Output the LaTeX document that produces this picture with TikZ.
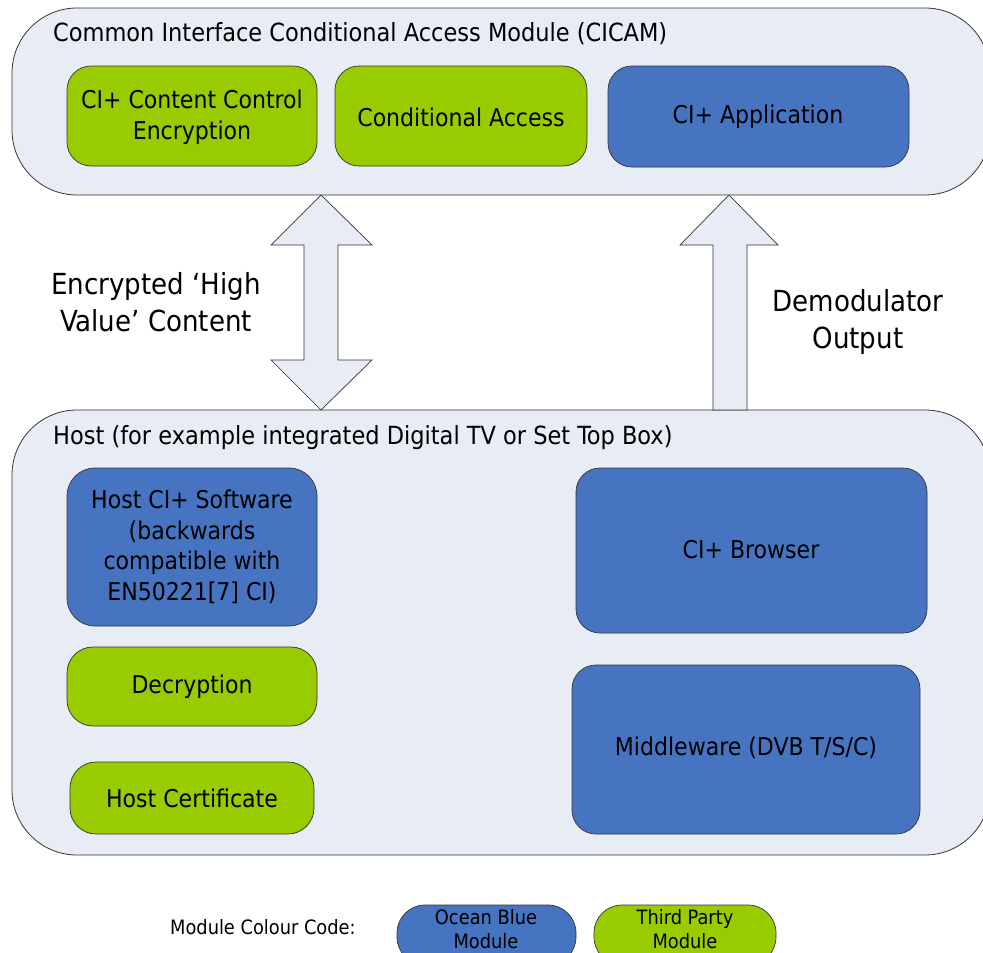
\documentclass[tikz,border=0pt]{standalone}
\usepackage{fontspec}
\setmainfont{DejaVu Sans Condensed}
\begin{document}
\begin{tikzpicture}[x=1pt,y=-1pt,
  outerbox/.style={draw=black!80,line width=0.8pt,fill=bgpale},
  blueblk/.style={draw=black!80,line width=0.7pt,fill=obblue,rounded corners=24pt},
  greenblk/.style={draw=black!80,line width=0.7pt,fill=tpgreen,rounded corners=24pt},
  ttl/.style={anchor=west,inner sep=0pt,font=\fontsize{25}{28}\selectfont,text=black},
  btxt/.style={font=\fontsize{24.5}{30.5}\selectfont,align=center,text=black},
  bigtxt/.style={font=\fontsize{29}{36.5}\selectfont,align=center,text=black},
  legtxt/.style={font=\fontsize{19.8}{24}\selectfont,align=center,text=black},
  blockarrow/.style={draw=black!80,line width=0.7pt,fill=bgpale}]
\definecolor{bgpale}{HTML}{E8ECF5}
\definecolor{obblue}{HTML}{4674C1}
\definecolor{tpgreen}{HTML}{99CC00}
\useasboundingbox (0,0) rectangle (983,953);
\begin{scope}
\clip (0,0) rectangle (983,953);
% top outer box
\draw[outerbox,rounded corners=65pt] (12,8) rectangle (990,195);
\node[ttl] (camtitle) at (53,34) {Common Interface Conditional Access Module (CICAM)};
\draw[greenblk] (67,66) rectangle (317,166);
\node[btxt] (cce) at (192,117) {CI+ Content Control\\Encryption};
\draw[greenblk] (335,66) rectangle (587,166);
\node[btxt] (ca) at (461,117) {Conditional Access};
\draw[blueblk] (608,66) rectangle (909,167);
\node[btxt] (app) at (758,117) {CI+ Application};
% host box
\draw[outerbox,rounded corners=65pt] (12,410) rectangle (990,855);
\node[ttl] (hosttitle) at (53,438) {Host (for example integrated Digital TV or Set Top Box)};
\draw[blueblk,rounded corners=28pt] (67,468) rectangle (317,626);
\node[btxt] (hsw) at (192,547) {Host CI+ Software\\(backwards\\compatible with\\EN50221[7] CI)};
\draw[greenblk,rounded corners=26pt] (67,647) rectangle (317,726);
\node[btxt] (dec) at (192,687) {Decryption};
\draw[greenblk,rounded corners=26pt] (70,762) rectangle (314,834);
\node[btxt] (cert) at (192,798) {Host Certificate};
\draw[blueblk] (576,468) rectangle (927,633);
\node[btxt] (brw) at (751,550) {CI+ Browser};
\draw[blueblk] (572,665) rectangle (920,834);
\node[btxt] (mw) at (746,748) {Middleware (DVB T/S/C)};
% block arrows
\draw[blockarrow] (321,195) -- (372,245) -- (338,245) -- (338,360) -- (372,360) -- (321,410)
  -- (271,360) -- (304,360) -- (304,245) -- (271,245) -- cycle;
\draw[blockarrow] (729,195) -- (778,245) -- (747,245) -- (747,410) -- (713,410) -- (713,245) -- (680,245) -- cycle;
\node[bigtxt] (enc) at (156,302) {Encrypted `High\\Value' Content};
\node[bigtxt] (demod) at (858,322) {Demodulator\\Output};
% legend
\node[legtxt,anchor=west,inner sep=0pt] (leg) at (170,927) {Module Colour Code:};
\draw[draw=black!80,line width=0.7pt,fill=obblue,rounded corners=28pt] (397,905) rectangle (576,965);
\node[legtxt] (ob) at (486,929) {Ocean Blue\\Module};
\draw[draw=black!80,line width=0.7pt,fill=tpgreen,rounded corners=28pt] (594,905) rectangle (776,965);
\node[legtxt] (tp) at (685,929) {Third Party\\Module};
\end{scope}
\end{tikzpicture}
\end{document}
